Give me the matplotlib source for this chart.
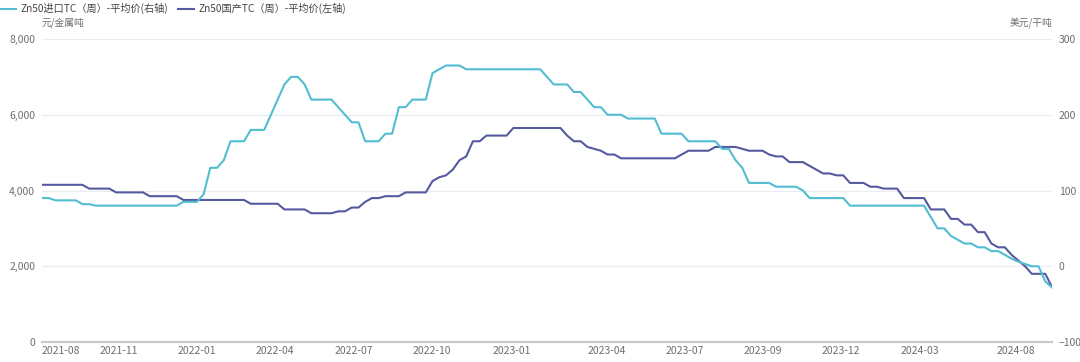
import matplotlib
matplotlib.use('Agg')
import matplotlib.pyplot as plt
from matplotlib.ticker import StrMethodFormatter

plt.rcParams['font.family'] = ['Noto Sans CJK SC', 'DejaVu Sans']

# 国产TC 周度平均价（左轴，元/金属吨）
domestic_tc = [
    4150, 4150, 4150, 4150, 4150, 4150, 4150, 4050, 4050, 4050,
    4050, 3950, 3950, 3950, 3950, 3950, 3850, 3850, 3850, 3850,
    3850, 3750, 3750, 3750, 3750, 3750, 3750, 3750, 3750, 3750,
    3750, 3650, 3650, 3650, 3650, 3650, 3500, 3500, 3500, 3500,
    3400, 3400, 3400, 3400, 3450, 3450, 3550, 3550, 3700, 3800,
    3800, 3850, 3850, 3850, 3950, 3950, 3950, 3950, 4250, 4350,
    4400, 4550, 4800, 4900, 5300, 5300, 5450, 5450, 5450, 5450,
    5650, 5650, 5650, 5650, 5650, 5650, 5650, 5650, 5450, 5300,
    5300, 5150, 5100, 5050, 4950, 4950, 4850, 4850, 4850, 4850,
    4850, 4850, 4850, 4850, 4850, 4950, 5050, 5050, 5050, 5050,
    5150, 5150, 5150, 5150, 5100, 5050, 5050, 5050, 4950, 4900,
    4900, 4750, 4750, 4750, 4650, 4550, 4450, 4450, 4400, 4400,
    4200, 4200, 4200, 4100, 4100, 4050, 4050, 4050, 3800, 3800,
    3800, 3800, 3500, 3500, 3500, 3250, 3250, 3100, 3100, 2900,
    2900, 2600, 2500, 2500, 2300, 2150, 2000, 1800, 1800, 1800,
    1450,
]

# 进口TC 周度平均价（右轴，美元/干吨）
import_tc = [
    90, 90, 87, 87, 87, 87, 82, 82, 80, 80,
    80, 80, 80, 80, 80, 80, 80, 80, 80, 80,
    80, 85, 85, 85, 95, 130, 130, 140, 165, 165,
    165, 180, 180, 180, 200, 220, 240, 250, 250, 240,
    220, 220, 220, 220, 210, 200, 190, 190, 165, 165,
    165, 175, 175, 210, 210, 220, 220, 220, 255, 260,
    265, 265, 265, 260, 260, 260, 260, 260, 260, 260,
    260, 260, 260, 260, 260, 250, 240, 240, 240, 230,
    230, 220, 210, 210, 200, 200, 200, 195, 195, 195,
    195, 195, 175, 175, 175, 175, 165, 165, 165, 165,
    165, 155, 155, 140, 130, 110, 110, 110, 110, 105,
    105, 105, 105, 100, 90, 90, 90, 90, 90, 90,
    80, 80, 80, 80, 80, 80, 80, 80, 80, 80,
    80, 80, 65, 50, 50, 40, 35, 30, 30, 25,
    25, 20, 20, 15, 10, 6, 3, 0, 0, -20,
    -28,
]

tick_labels = ['2021-08', '2021-11', '2022-01', '2022-04', '2022-07', '2022-10',
               '2023-01', '2023-04', '2023-07', '2023-09', '2023-12', '2024-03',
               '2024-08']

name_import = 'Zn50进口TC（周）-平均价(右轴)'
name_domestic = 'Zn50国产TC（周）-平均价(左轴)'

c_import = '#52BDD2'
c_domestic = '#555A9E'
txt_gray = '#6E6E6E'

fig = plt.figure(figsize=(10.8, 3.62), dpi=100)
ax = fig.add_axes([42 / 1080, 1 - 342 / 362, 1010 / 1080, 303 / 362])
ax2 = ax.twinx()

x = list(range(len(domestic_tc)))
l2, = ax2.plot(x, import_tc, color=c_import, lw=1.5, zorder=3)
l1, = ax.plot(x, domestic_tc, color=c_domestic, lw=1.5, zorder=3)

ax.set_xlim(0, len(x) - 1)
ax.set_ylim(0, 8000)
ax2.set_ylim(-100, 300)
ax.set_yticks([0, 2000, 4000, 6000, 8000])
ax2.set_yticks([-100, 0, 100, 200, 300])
ax.yaxis.set_major_formatter(StrMethodFormatter('{x:,.0f}'))

# 标签位置（按类目序号）
tick_pos = [2.75, 11.4, 22.95, 34.6, 46.3, 57.9, 69.7, 83.9, 95.4, 107.1, 118.7, 130.3, 144.7]
ax.set_xticks(tick_pos)
ax.set_xticklabels(tick_labels)

ax.grid(axis='y', color='#E8ECF4', lw=0.9)
ax.set_axisbelow(True)
for a in (ax, ax2):
    for s in ('top', 'right', 'left', 'bottom'):
        a.spines[s].set_visible(False)
    a.tick_params(length=0, labelsize=7.5, labelcolor=txt_gray)
ax.spines['bottom'].set_visible(True)
ax.spines['bottom'].set_color('#C8CACE')
ax.spines['bottom'].set_linewidth(1.6)
ax.tick_params(axis='x', pad=3)
ax.tick_params(axis='y', pad=5)
ax2.tick_params(axis='y', pad=5)

fig.text(42 / 1080, 1 - 23 / 362, '元/金属吨', fontsize=7, color=txt_gray, va='center', ha='left')
fig.text(1052 / 1080, 1 - 23 / 362, '美元/干吨', fontsize=7, color=txt_gray, va='center', ha='right')

fig.legend([l2, l1], [name_import, name_domestic], loc='upper left',
           bbox_to_anchor=(-0.002, 1.0), borderaxespad=0.1, borderpad=0.2,
           ncol=2, frameon=False, fontsize=7.3,
           handlelength=1.5, handletextpad=0.45, columnspacing=1.0, labelcolor='#444444')

fig.savefig('out.png', dpi=100)
